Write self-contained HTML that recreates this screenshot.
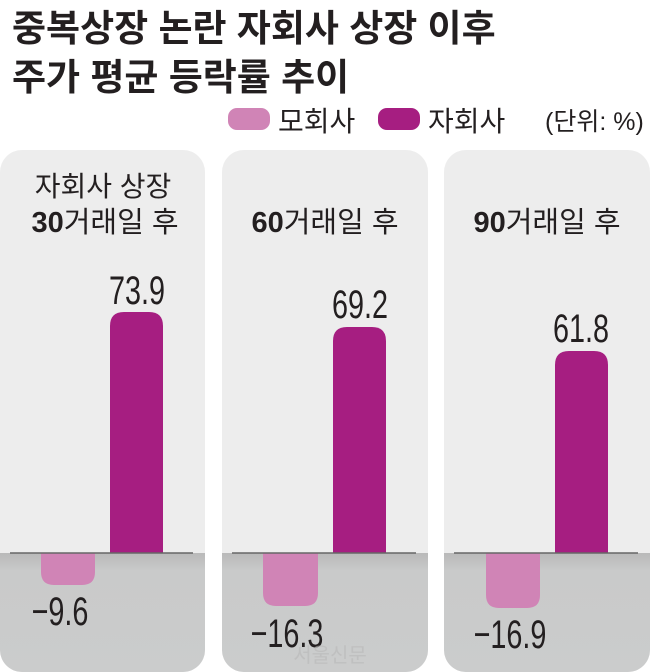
<!DOCTYPE html>
<html><head><meta charset="utf-8"><style>
body{margin:0;background:#fff;}
svg{display:block}
.t{font-family:"Liberation Sans","Noto Sans CJK KR",sans-serif;}
.n{font-family:"Liberation Sans","Noto Sans CJK KR",sans-serif;}
</style></head><body>
<svg width="650" height="672" viewBox="0 0 650 672" xmlns="http://www.w3.org/2000/svg">
<defs>
<linearGradient id="g" x1="0" y1="0" x2="0" y2="1">
<stop offset="0" stop-color="#b9b9b9"/><stop offset="0.15" stop-color="#c9caca"/><stop offset="1" stop-color="#cbcccc"/>
</linearGradient>
<clipPath id="c1"><rect x="0" y="150" width="205" height="522" rx="22"/></clipPath>
<clipPath id="c2"><rect x="222" y="150" width="206" height="522" rx="22"/></clipPath>
<clipPath id="c3"><rect x="444" y="150" width="206" height="522" rx="22"/></clipPath>
</defs>
<text class="t" x="12" y="41" font-size="37" font-weight="bold" fill="#231f20">중복상장 논란 자회사 상장 이후</text>
<text class="t" x="12" y="90" font-size="37" font-weight="bold" fill="#231f20">주가 평균 등락률 추이</text>

<rect x="228" y="108" width="42" height="22" rx="9" fill="#d084b6"/>
<text class="t" x="278" y="131" font-size="28" fill="#231f20">모회사</text>
<rect x="378" y="108" width="42" height="22" rx="9" fill="#a61e81"/>
<text class="t" x="428" y="131" font-size="28" fill="#231f20">자회사</text>
<text class="t" x="545" y="130" font-size="25" fill="#231f20">(단위: %)</text>

<g clip-path="url(#c1)"><rect x="0" y="150" width="205" height="522" fill="#ededed"/><rect x="0" y="553" width="205" height="120" fill="url(#g)"/></g>
<g clip-path="url(#c2)"><rect x="222" y="150" width="206" height="522" fill="#ededed"/><rect x="222" y="553" width="206" height="120" fill="url(#g)"/></g>
<g clip-path="url(#c3)"><rect x="444" y="150" width="206" height="522" fill="#ededed"/><rect x="444" y="553" width="206" height="120" fill="url(#g)"/></g>

<text class="t" x="103" y="196" font-size="28" fill="#231f20" text-anchor="middle">자회사 상장</text>
<text class="t" x="105" y="232" font-size="29" fill="#231f20" text-anchor="middle"><tspan font-weight="bold">30</tspan>거래일 후</text>
<text class="t" x="325" y="232" font-size="29" fill="#231f20" text-anchor="middle"><tspan font-weight="bold">60</tspan>거래일 후</text>
<text class="t" x="547" y="232" font-size="29" fill="#231f20" text-anchor="middle"><tspan font-weight="bold">90</tspan>거래일 후</text>

<path d="M110 553 V326 q0 -14 14 -14 h25 q14 0 14 14 V553Z" fill="#a61e81"/>
<path d="M41 553 V572 q0 13 13 13 h28 q13 0 13 -13 V553Z" fill="#d084b6"/>
<path d="M333 553 V341 q0 -14 14 -14 h25 q14 0 14 14 V553Z" fill="#a61e81"/>
<path d="M263 553 V593 q0 13 13 13 h29 q13 0 13 -13 V553Z" fill="#d084b6"/>
<path d="M555 553 V365 q0 -14 14 -14 h25 q14 0 14 14 V553Z" fill="#a61e81"/>
<path d="M486 553 V595 q0 13 13 13 h28 q13 0 13 -13 V553Z" fill="#d084b6"/>

<line x1="10" y1="553" x2="193" y2="553" stroke="#666" stroke-width="1.5"/>
<line x1="232" y1="553" x2="416" y2="553" stroke="#666" stroke-width="1.5"/>
<line x1="454" y1="553" x2="638" y2="553" stroke="#666" stroke-width="1.5"/>

<g class="n" font-size="40" fill="#231f20" text-anchor="middle">
<text transform="translate(137,304) scale(0.72,1)">73.9</text>
<text transform="translate(360,318) scale(0.72,1)">69.2</text>
<text transform="translate(581,342) scale(0.72,1)">61.8</text>
<text transform="translate(60,625) scale(0.72,1)">−9.6</text>
<text transform="translate(287,647) scale(0.72,1)">−16.3</text>
<text transform="translate(510,648) scale(0.72,1)">−16.9</text>
</g>
<text class="t" x="330" y="662" font-size="20" fill="#b8b8b8" fill-opacity="0.6" text-anchor="middle">서울신문</text>
</svg>
</body></html>
